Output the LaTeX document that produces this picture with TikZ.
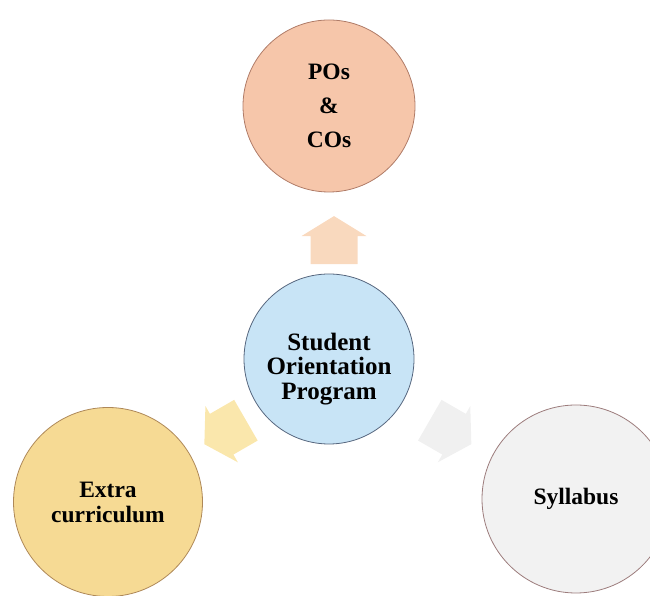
\documentclass[tikz,border=0pt]{standalone}
\usepackage{fontspec}
\setmainfont{Liberation Serif}
\usetikzlibrary{calc}
\definecolor{pocofill}{HTML}{F6C6AA}
\definecolor{pocoline}{HTML}{B07C68}
\definecolor{sopfill}{HTML}{C8E4F6}
\definecolor{sopline}{HTML}{56667E}
\definecolor{extrafill}{HTML}{F6DA94}
\definecolor{extraline}{HTML}{AE8858}
\definecolor{sylfill}{HTML}{F2F2F2}
\definecolor{sylline}{HTML}{9C7C7C}
\definecolor{uparr}{HTML}{F9D9BE}
\definecolor{leftarr}{HTML}{FAE7AC}
\definecolor{rightarr}{HTML}{F0F0F0}
\tikzset{
  bub/.style={circle, draw=#1line, fill=#1fill, line width=0.8pt, inner sep=0pt,
    align=center, font=\fontsize{23.5}{25}\selectfont\bfseries},
  bubtext/.style={align=center, inner sep=0pt, font=\fontsize{25}{24.5}\selectfont\bfseries},
  blockarr/.pic={\path[pic actions](-24pt,-23.5pt)--(4pt,-23.5pt)--(4pt,-32.5pt)--(24pt,0pt)
    --(4pt,32.5pt)--(4pt,23.5pt)--(-24pt,23.5pt)--cycle;}
}
\begin{document}
\begin{tikzpicture}[x=1pt,y=1pt]
\useasboundingbox (0,0) rectangle (650,596);
\node[bub=sop, minimum size=170pt](sop) at (329,237){};
\node[bubtext](soptext) at ([yshift=-10pt]sop.center){Student\\Orientation\\Program};
\node[bub=poco, minimum size=172pt](poco) at (329,490){POs\\[9pt]\&\\[9pt]COs};
\node[bub=extra, minimum size=189pt](extra) at (108,94){Extra\\curriculum};
\node[bub=syl, minimum size=188pt](syl) at (576,97){Syllabus};
\pic[fill=uparr, rotate=90](up) at ($(sop)!0.47!(poco)+(5,0)$){blockarr};
\pic[fill=leftarr, rotate=210](lf) at ($(sop)!0.47!(extra)+(0,-6)$){blockarr};
\pic[fill=rightarr, rotate=330](rt) at ($(sop)!0.48!(syl)+(3,-6)$){blockarr};
\end{tikzpicture}
\end{document}
